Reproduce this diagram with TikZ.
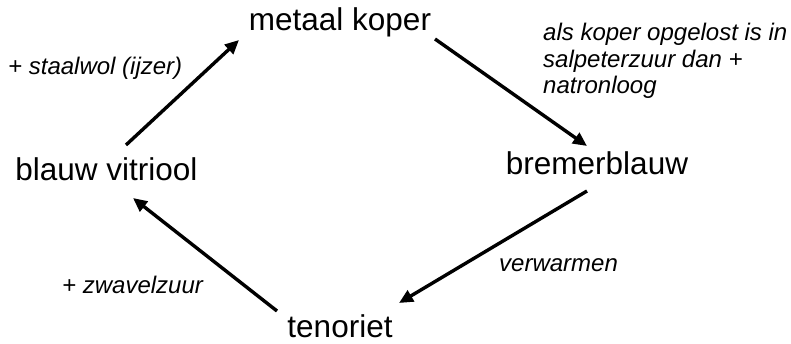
\documentclass[tikz,border=0pt]{standalone}
\usepackage{fontspec}
\setmainfont{Liberation Sans}
\usetikzlibrary{arrows.meta}
\tikzset{
  compound/.style={inner sep=0pt, anchor=base, font=\fontsize{31.5}{36}\selectfont},
  reagent/.style={inner sep=0pt, anchor=base west, align=left, font=\fontsize{24}{26.5}\selectfont\itshape},
  flow/.style={line width=3.4pt, -{Triangle[length=14pt,width=12.5pt]}}
}
\begin{document}
\begin{tikzpicture}[x=1pt,y=1pt]
\useasboundingbox (0,0) rectangle (791,343);
% compounds
\node[compound] (mk) at (340,312) {metaal koper};
\node[compound] (bv) at (106.5,163) {blauw vitriool};
\node[compound] (bb) at (597,169) {bremerblauw};
\node[compound] (te) at (340,6) {tenoriet};
% reagent labels
\node[reagent] (l1) at (8,268) {+ staalwol (ijzer)};
\node[reagent, anchor=north west] (l2) at (543,320) {als koper opgelost is in\\salpeterzuur dan +\\natronloog};
\node[reagent] (l3) at (499,72) {verwarmen};
\node[reagent] (l4) at (62,50) {+ zwavelzuur};
% arrow ends
\coordinate (bvout) at (126,198);
\coordinate (mkin) at (239,303);
\coordinate (mkout) at (435,304);
\coordinate (bbin) at (587,197);
\coordinate (bbout) at (587,152);
\coordinate (tein) at (399,40);
\coordinate (teout) at (277,32);
\coordinate (bvin) at (133,145);
% connectors
\draw[flow] (bvout) -- (mkin);
\draw[flow] (mkout) -- (bbin);
\draw[flow] (bbout) -- (tein);
\draw[flow] (teout) -- (bvin);
\end{tikzpicture}
\end{document}
